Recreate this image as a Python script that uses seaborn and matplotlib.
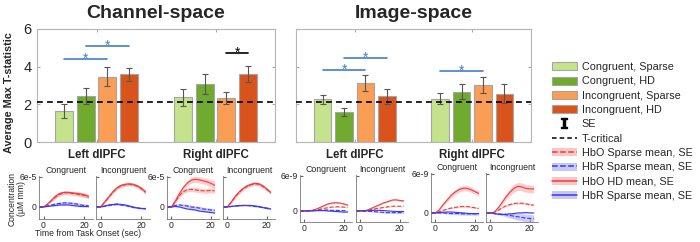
import numpy as np
import pandas as pd
import matplotlib
matplotlib.use("Agg")
import matplotlib.pyplot as plt
import seaborn as sns
from matplotlib.patches import Patch
from matplotlib.lines import Line2D

# ---- bar chart data (average max T-statistic) ----
regions = ["Left dlPFC", "Right dlPFC"]
conditions = ["Congruent, Sparse", "Congruent, HD", "Incongruent, Sparse", "Incongruent, HD"]
bar_colors = ["#c4e38c", "#70aa2e", "#fa9d55", "#d9541c"]

channel_t = [[1.65, 2.44, 3.47, 3.60], [2.37, 3.08, 2.32, 3.61]]
channel_se = [[0.35, 0.41, 0.51, 0.34], [0.46, 0.52, 0.32, 0.45]]
image_t = [[2.27, 1.58, 3.12, 2.44], [2.30, 2.67, 3.04, 2.57]]
image_se = [[0.23, 0.22, 0.43, 0.40], [0.28, 0.41, 0.42, 0.51]]
t_critical = 2.1

# significance brackets: region, condition a, condition b, height, colour
channel_sig = [(0, 0, 2, 4.4, "#3f7fc8"), (0, 1, 3, 5.1, "#3f7fc8"), (1, 2, 3, 4.7, "black")]
image_sig = [(0, 0, 2, 3.82, "#3f7fc8"), (0, 1, 3, 4.46, "#3f7fc8"), (1, 0, 2, 3.75, "#3f7fc8")]

# ---- time courses: rows = HbO HD, HbO Sparse, HbR HD, HbR Sparse ----
time_s = [-2, 0, 2, 4, 6, 8, 10, 12, 14, 16, 18, 20, 22]

# channel space, units of 1e-5 uM mm
ch_left_cong = [[0, 0, 0.6, 1.4, 2.2, 2.7, 2.9, 2.9, 2.8, 2.7, 2.6, 2.4, 2.1],
                [0, 0, 0.5, 1.3, 2.0, 2.5, 2.8, 2.8, 2.7, 2.6, 2.4, 2.3, 2.0],
                [0, 0, 0.1, 0.2, 0.3, 0.4, 0.4, 0.4, 0.3, 0.2, 0.1, 0.1, 0.1],
                [0, 0, 0.2, 0.4, 0.6, 0.7, 0.8, 0.8, 0.7, 0.6, 0.4, 0.3, 0.2]]
ch_left_cong_se = [[0, 0.05, 0.15, 0.25, 0.3, 0.3, 0.3, 0.3, 0.3, 0.35, 0.35, 0.4, 0.4],
                   [0, 0.05, 0.15, 0.25, 0.3, 0.3, 0.35, 0.35, 0.35, 0.35, 0.4, 0.4, 0.4],
                   [0, 0.02, 0.05, 0.08, 0.1, 0.1, 0.1, 0.1, 0.1, 0.1, 0.1, 0.1, 0.1],
                   [0, 0.05, 0.1, 0.2, 0.25, 0.3, 0.3, 0.3, 0.3, 0.3, 0.3, 0.3, 0.3]]
ch_left_incong = [[0, 0, 1.0, 2.0, 3.0, 3.8, 4.3, 4.5, 4.6, 4.5, 4.2, 3.7, 3.0],
                  [0, 0, 0.9, 1.9, 2.9, 3.7, 4.2, 4.4, 4.5, 4.4, 4.1, 3.6, 2.9],
                  [0, 0, 0.2, 0.4, 0.5, 0.6, 0.5, 0.4, 0.2, 0.0, -0.2, -0.3, -0.3],
                  [0, 0, 0.1, 0.3, 0.4, 0.5, 0.4, 0.3, 0.1, -0.1, -0.2, -0.3, -0.4]]
ch_left_incong_se = [[0, 0.05, 0.2, 0.25, 0.3, 0.3, 0.3, 0.3, 0.3, 0.3, 0.3, 0.35, 0.35],
                     [0, 0.05, 0.2, 0.25, 0.3, 0.3, 0.3, 0.3, 0.3, 0.3, 0.3, 0.35, 0.35],
                     [0, 0.02, 0.05, 0.08, 0.1, 0.1, 0.1, 0.1, 0.1, 0.1, 0.1, 0.1, 0.1],
                     [0, 0.02, 0.05, 0.1, 0.12, 0.15, 0.15, 0.15, 0.15, 0.15, 0.15, 0.15, 0.15]]
ch_right_cong = [[0, 0, 1.2, 2.6, 3.8, 4.7, 5.3, 5.5, 5.4, 5.2, 5.0, 4.7, 4.3],
                 [0, 0, 1.0, 2.2, 3.0, 3.4, 3.5, 3.4, 3.3, 3.2, 3.2, 3.3, 3.2],
                 [0, 0, 0.1, 0.0, -0.2, -0.4, -0.5, -0.6, -0.8, -0.9, -1.0, -1.1, -1.2],
                 [0, 0, 0.3, 0.4, 0.3, 0.2, 0.0, -0.1, -0.2, -0.4, -0.5, -0.6, -0.7]]
ch_right_cong_se = [[0, 0.1, 0.3, 0.4, 0.5, 0.55, 0.6, 0.6, 0.6, 0.6, 0.65, 0.7, 0.8],
                    [0, 0.1, 0.3, 0.35, 0.4, 0.4, 0.45, 0.45, 0.45, 0.45, 0.5, 0.5, 0.5],
                    [0, 0.03, 0.05, 0.08, 0.1, 0.1, 0.1, 0.1, 0.1, 0.1, 0.1, 0.12, 0.12],
                    [0, 0.05, 0.15, 0.25, 0.3, 0.35, 0.35, 0.35, 0.35, 0.35, 0.35, 0.35, 0.35]]
ch_right_incong = [[0, 0, 1.0, 2.1, 3.0, 3.7, 4.2, 4.5, 4.7, 4.6, 4.2, 3.6, 2.9],
                   [0, 0, 0.9, 2.0, 2.9, 3.6, 4.1, 4.4, 4.6, 4.5, 4.1, 3.5, 2.8],
                   [0, 0, 0.1, 0.2, 0.3, 0.3, 0.3, 0.3, 0.2, 0.1, -0.1, -0.3, -0.4],
                   [0, 0, 0.1, 0.2, 0.2, 0.3, 0.3, 0.2, 0.1, 0.0, -0.1, -0.2, -0.3]]
ch_right_incong_se = [[0, 0.05, 0.2, 0.25, 0.3, 0.3, 0.3, 0.3, 0.3, 0.3, 0.3, 0.3, 0.3],
                      [0, 0.05, 0.2, 0.25, 0.3, 0.3, 0.3, 0.3, 0.3, 0.3, 0.3, 0.3, 0.3],
                      [0, 0.02, 0.05, 0.08, 0.1, 0.1, 0.1, 0.1, 0.1, 0.1, 0.1, 0.1, 0.1],
                      [0, 0.02, 0.05, 0.08, 0.1, 0.1, 0.1, 0.1, 0.1, 0.1, 0.1, 0.1, 0.1]]

# image space, units of 1e-9 uM mm
im_left_cong = [[0, 0, 0, 0.1, 0.3, 0.6, 0.9, 1.2, 1.35, 1.4, 1.35, 1.2, 1.0],
                [0, 0, 0, 0.05, 0.15, 0.3, 0.45, 0.55, 0.65, 0.7, 0.7, 0.65, 0.6],
                [0, 0, 0, 0, 0.05, 0.05, 0.05, 0, -0.05, -0.1, -0.15, -0.2, -0.2],
                [0, 0, 0, 0.05, 0.1, 0.15, 0.15, 0.15, 0.1, 0.1, 0.05, 0.05, 0]]
im_left_cong_se = [[0, 0.02, 0.03, 0.05, 0.08, 0.1, 0.12, 0.12, 0.12, 0.12, 0.12, 0.12, 0.12],
                   [0, 0.02, 0.03, 0.04, 0.05, 0.06, 0.06, 0.06, 0.06, 0.06, 0.06, 0.06, 0.06],
                   [0, 0.02, 0.02, 0.03, 0.03, 0.03, 0.03, 0.03, 0.03, 0.03, 0.03, 0.03, 0.03],
                   [0, 0.02, 0.03, 0.05, 0.06, 0.06, 0.06, 0.06, 0.06, 0.06, 0.06, 0.06, 0.06]]
im_left_incong = [[0, 0, 0, 0.2, 0.5, 0.8, 1.1, 1.4, 1.6, 1.85, 1.9, 1.8, 1.7],
                  [0, 0, 0, 0.1, 0.25, 0.4, 0.5, 0.6, 0.7, 0.8, 0.8, 0.8, 0.8],
                  [0, 0, 0, 0.05, 0.1, 0.1, 0.1, 0.05, 0, -0.05, -0.1, -0.1, -0.1],
                  [0, 0, 0, -0.05, -0.1, -0.15, -0.2, -0.25, -0.3, -0.3, -0.3, -0.3, -0.3]]
im_left_incong_se = [[0, 0.02, 0.03, 0.06, 0.08, 0.1, 0.12, 0.12, 0.13, 0.13, 0.13, 0.13, 0.13],
                     [0, 0.02, 0.03, 0.04, 0.05, 0.06, 0.06, 0.06, 0.06, 0.06, 0.06, 0.06, 0.06],
                     [0, 0.02, 0.02, 0.03, 0.03, 0.03, 0.03, 0.03, 0.03, 0.03, 0.03, 0.03, 0.03],
                     [0, 0.02, 0.03, 0.05, 0.08, 0.1, 0.12, 0.12, 0.12, 0.12, 0.12, 0.12, 0.12]]
im_right_cong = [[0, 0, 0.5, 1.3, 2.0, 2.7, 3.2, 3.6, 3.8, 3.8, 3.6, 3.3, 3.0],
                 [0, 0, 0.2, 0.4, 0.6, 0.75, 0.85, 0.95, 1.0, 1.0, 0.9, 0.8, 0.7],
                 [0, 0, 0.05, 0.1, 0.15, 0.15, 0.1, 0.05, 0, -0.05, -0.1, -0.1, -0.1],
                 [0, 0, 0, 0, -0.05, -0.1, -0.1, -0.1, -0.15, -0.15, -0.15, -0.15, -0.15]]
im_right_cong_se = [[0, 0.05, 0.15, 0.25, 0.3, 0.35, 0.4, 0.4, 0.4, 0.4, 0.4, 0.4, 0.4],
                    [0, 0.03, 0.05, 0.08, 0.1, 0.1, 0.1, 0.12, 0.12, 0.12, 0.12, 0.12, 0.12],
                    [0, 0.02, 0.03, 0.05, 0.05, 0.05, 0.05, 0.05, 0.05, 0.05, 0.05, 0.05, 0.05],
                    [0, 0.03, 0.06, 0.1, 0.12, 0.15, 0.18, 0.2, 0.2, 0.2, 0.2, 0.2, 0.2]]
im_right_incong = [[0, 0, 0.1, 0.8, 1.6, 2.5, 3.2, 3.8, 4.1, 4.0, 3.8, 3.7, 3.7],
                   [0, 0, 0.1, 0.4, 0.8, 1.1, 1.3, 1.45, 1.5, 1.5, 1.4, 1.3, 1.2],
                   [0, 0, -0.1, -0.2, -0.25, -0.2, -0.15, -0.1, 0, 0, 0.05, 0, 0],
                   [0, 0, -0.1, -0.15, -0.2, -0.3, -0.4, -0.5, -0.6, -0.7, -0.8, -0.85, -0.9]]
im_right_incong_se = [[0, 0.05, 0.1, 0.25, 0.35, 0.45, 0.55, 0.6, 0.6, 0.6, 0.6, 0.6, 0.6],
                      [0, 0.03, 0.05, 0.08, 0.1, 0.12, 0.15, 0.15, 0.15, 0.15, 0.15, 0.15, 0.15],
                      [0, 0.02, 0.03, 0.05, 0.05, 0.05, 0.05, 0.05, 0.05, 0.05, 0.05, 0.05, 0.05],
                      [0, 0.03, 0.08, 0.15, 0.2, 0.3, 0.4, 0.45, 0.5, 0.55, 0.6, 0.6, 0.6]]

sns.set_style("ticks")
plt.rcParams["font.family"] = ["Liberation Sans", "DejaVu Sans"]

W, H = 700, 242
fig = plt.figure(figsize=(W / 100, H / 100), dpi=100)


def px_axes(x0, y0, x1, y1):
    return fig.add_axes([x0 / W, 1 - y1 / H, (x1 - x0) / W, (y1 - y0) / H])


def bar_panel(ax, vals, ses, sig, title, first):
    df = pd.DataFrame({"region": np.repeat(regions, 4),
                       "condition": conditions * 2,
                       "value": np.ravel(vals)})
    sns.barplot(data=df, x="region", y="value", hue="condition", hue_order=conditions,
                palette=bar_colors, saturation=1, width=0.73, gap=0.17,
                edgecolor="#a5a5a5", linewidth=0.8, errorbar=None, legend=False, ax=ax)
    bar_sets = list(ax.containers)
    centers = [[0] * 4 for _ in range(2)]
    for h, cont in enumerate(bar_sets):
        for r, b in enumerate(cont.patches):
            centers[r][h] = b.get_x() + b.get_width() / 2
    for h in range(4):
        ax.errorbar([centers[r][h] for r in range(2)], [vals[r][h] for r in range(2)],
                    yerr=[ses[r][h] for r in range(2)], fmt="none", ecolor="#555555",
                    elinewidth=0.8, capsize=2.5, capthick=0.8, zorder=3)
    ax.axhline(t_critical, color="black", ls=(0, (3.5, 2.5)), lw=1.2, zorder=4)
    for r, a, b, y, c in sig:
        ax.plot([centers[r][a], centers[r][b]], [y, y], color=c, lw=1.2)
        ax.text((centers[r][a] + centers[r][b]) / 2, y - 0.2, "*", color=c,
                ha="center", va="baseline", fontsize=10)
    ax.set_xlim(-0.5, 1.5)
    ax.set_ylim(0, 6)
    ax.set_yticks([0, 2, 4, 6])
    ax.set_xlabel("")
    if first:
        ax.set_ylabel("Average Max T-statistic", fontsize=7.8, fontweight="bold")
        ax.yaxis.set_label_coords(-0.098, 0.44)
        ax.tick_params(axis="y", labelsize=10.5, pad=4)
    else:
        ax.set_ylabel("")
        ax.set_yticklabels([])
    ax.tick_params(axis="both", direction="in", length=2.5, right=True, top=True,
                   color="#aaaaaa")
    ax.tick_params(axis="x", labelsize=8.3, pad=5)
    for lab in ax.get_xticklabels():
        lab.set_fontweight("bold")
    for sp in ax.spines.values():
        sp.set_color("#b5b5b5")
        sp.set_linewidth(0.8)
    ax.set_title(title, fontsize=14, fontweight="bold", pad=8)


red, red_band = "#f03c3c", "#f7a3a3"
blue, blue_band = "#3838e8", "#a3a3f5"


def curve_panel(ax, means, ses, ylow, top_label, title, labels):
    t = np.array(time_s)
    styles = [(1, red, red_band, "--"), (3, blue, blue_band, "--"),
              (0, red, red_band, "-"), (2, blue, blue_band, "-")]
    for k, lc, bc, ls in styles:
        m = np.array(means[k])
        s = np.array(ses[k])
        ax.fill_between(t, m - s, m + s, color=bc, alpha=0.55, lw=0)
        sns.lineplot(x=t, y=m, ax=ax, color=lc, linestyle=ls, lw=0.8)
    ax.set_xlim(-2.2, 24.2)
    ax.set_ylim(ylow, 6.15)
    ax.set_xticks([0, 20])
    ax.set_yticks([0, 6])
    if labels:
        ax.set_yticklabels(["0", top_label])
    else:
        ax.set_yticklabels([])
    ax.tick_params(axis="both", direction="in", length=2, labelsize=6.2, pad=1.5,
                   color="#666666")
    sns.despine(ax=ax)
    for sp in ax.spines.values():
        sp.set_color("#777777")
        sp.set_linewidth(0.6)
    ax.set_title(title, fontsize=6.3, pad=2)


ax_ch = px_axes(37, 29, 275, 142)
bar_panel(ax_ch, channel_t, channel_se, channel_sig, "Channel-space", True)
ax_im = px_axes(296, 29, 531, 142)
bar_panel(ax_im, image_t, image_se, image_sig, "Image-space", False)

ch_boxes = [(39, 176, 93, 219), (96, 176, 150, 219), (167, 176, 219, 219), (223, 176, 275, 219)]
im_boxes = [(300, 175, 352, 222), (356, 175, 408, 222), (431, 173, 483, 222), (486, 173, 538, 222)]
ch_lows = [-2.4, -2.4, -2.4, -2.4]
im_lows = [-1.9, -1.9, -1.4, -1.4]
ch_data = [(ch_left_cong, ch_left_cong_se), (ch_left_incong, ch_left_incong_se),
           (ch_right_cong, ch_right_cong_se), (ch_right_incong, ch_right_incong_se)]
im_data = [(im_left_cong, im_left_cong_se), (im_left_incong, im_left_incong_se),
           (im_right_cong, im_right_cong_se), (im_right_incong, im_right_incong_se)]
titles = ["Congruent", "Incongruent", "Congruent", "Incongruent"]

for i in range(4):
    ax = px_axes(*ch_boxes[i])
    curve_panel(ax, ch_data[i][0], ch_data[i][1], ch_lows[i], "6e-5", titles[i], i % 2 == 0)
    ax = px_axes(*im_boxes[i])
    curve_panel(ax, im_data[i][0], im_data[i][1], im_lows[i], "6e-9", titles[i], i % 2 == 0)

fig.text(12 / W, 1 - 199 / H, "Concentration", rotation=90, ha="center", va="center", fontsize=6.2)
fig.text(21 / W, 1 - 199 / H, "(\u00b5M mm)", rotation=90, ha="center", va="center", fontsize=6.2)
fig.text(88 / W, 1 - 234 / H, "Time from Task Onset (sec)", ha="center", va="center", fontsize=6.2)

# legend
handles = [Patch(facecolor=c, edgecolor="#a5a5a5", lw=0.8) for c in bar_colors]
handles.append(Line2D([], [], color="black", marker=r"$\mathtt{I}$", markersize=7, ls="none"))
handles.append(Line2D([], [], color="black", ls=(0, (3, 2)), lw=1.1))
handles.append((Patch(facecolor=red_band, alpha=0.6, lw=0), Line2D([], [], color=red, ls="--", lw=1.1)))
handles.append((Patch(facecolor=blue_band, alpha=0.6, lw=0), Line2D([], [], color=blue, ls="--", lw=1.1)))
handles.append((Patch(facecolor=red_band, alpha=0.6, lw=0), Line2D([], [], color=red, ls="-", lw=1.1)))
handles.append((Patch(facecolor=blue_band, alpha=0.6, lw=0), Line2D([], [], color=blue, ls="-", lw=1.1)))
labels = conditions + ["SE", "T-critical", "HbO Sparse mean, SE", "HbR Sparse mean, SE",
                       "HbO HD mean, SE", "HbR Sparse mean, SE"]
fig.legend(handles, labels, loc="upper left", bbox_to_anchor=(552 / W, 1 - 62 / H),
           frameon=False, fontsize=7.8, handlelength=2.3, handleheight=0.75,
           handletextpad=0.45, labelspacing=0.4, borderpad=0, borderaxespad=0)

fig.savefig("out.png", dpi=100)
